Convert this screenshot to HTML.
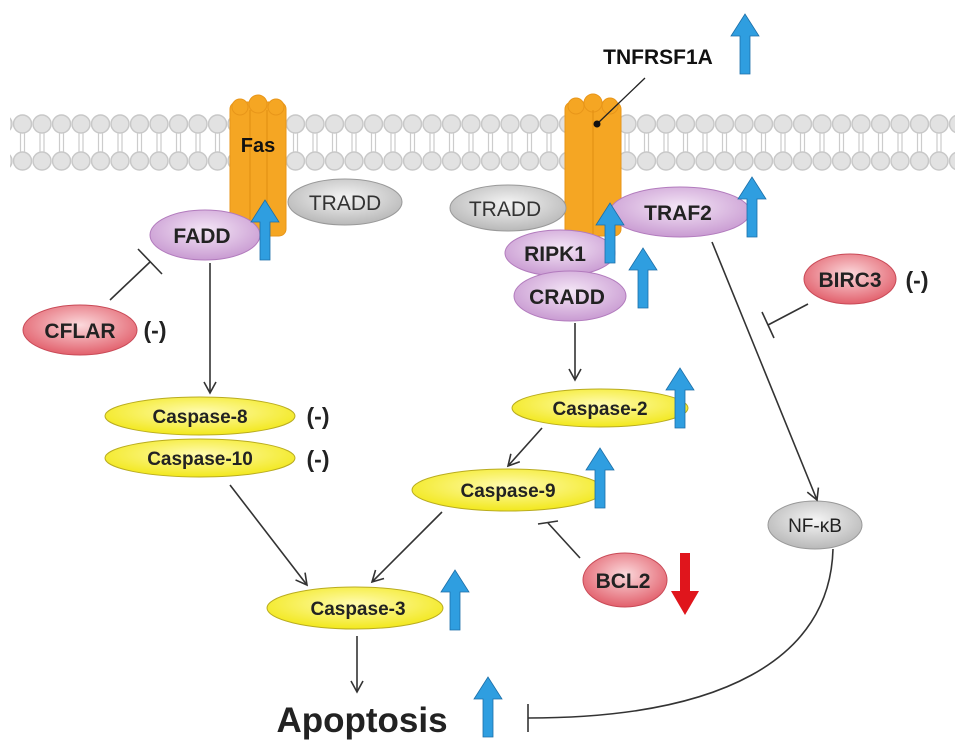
<!DOCTYPE html>
<html><head><meta charset="utf-8"><style>html,body{margin:0;padding:0;background:#fff}svg{display:block}text{font-family:"Liberation Sans",sans-serif}.b{font-weight:bold}</style></head><body>
<svg width="969" height="752" viewBox="0 0 969 752" xmlns="http://www.w3.org/2000/svg">
<defs>
<pattern id="mem" x="13" y="0" width="19.5" height="752" patternUnits="userSpaceOnUse">
<circle cx="9.5" cy="124" r="9" fill="#e2e2e2" stroke="#c8c8c8" stroke-width="1.5"/>
<circle cx="9.5" cy="161" r="9" fill="#e2e2e2" stroke="#c8c8c8" stroke-width="1.5"/>
<line x1="7.5" y1="133" x2="7.5" y2="152" stroke="#ccc" stroke-width="1.2"/>
<line x1="11.5" y1="133" x2="11.5" y2="152" stroke="#ccc" stroke-width="1.2"/>
</pattern>
<radialGradient id="gp" cx="50%" cy="40%" r="60%"><stop offset="0" stop-color="#f4e6f6"/><stop offset="1" stop-color="#c99bd2"/></radialGradient>
<radialGradient id="gg" cx="50%" cy="40%" r="60%"><stop offset="0" stop-color="#f5f5f5"/><stop offset="1" stop-color="#b8b8b8"/></radialGradient>
<radialGradient id="gr" cx="50%" cy="40%" r="60%"><stop offset="0" stop-color="#fbd9dc"/><stop offset="1" stop-color="#e2606c"/></radialGradient>
<radialGradient id="gy" cx="50%" cy="40%" r="60%"><stop offset="0" stop-color="#fffbb0"/><stop offset="1" stop-color="#f2e81c"/></radialGradient>
<marker id="ah" markerWidth="14" markerHeight="14" refX="12" refY="7" orient="auto" markerUnits="userSpaceOnUse"><path d="M1,1 L12,7 L1,13" fill="none" stroke="#333" stroke-width="1.6"/></marker>
<g id="up"><path d="M-5,60 L-5,22 L-14,22 L0,0 L14,22 L5,22 L5,60 Z" fill="#2f9ee0" stroke="#1c6fa8" stroke-width="0.8"/></g>
</defs>
<rect x="10" y="110" width="945" height="65" fill="url(#mem)"/>
<g fill="#f5a623" stroke="#e8961a">
<rect x="230" y="102" width="56" height="134" rx="7"/><circle cx="240" cy="107" r="8"/><circle cx="258" cy="104" r="9"/><circle cx="276" cy="107" r="8"/>
<rect x="565" y="102" width="56" height="134" rx="7"/><circle cx="576" cy="106" r="8"/><circle cx="593" cy="103" r="9"/><circle cx="610" cy="106" r="8"/>
</g>
<g stroke="#e08d10" stroke-width="1"><line x1="250" y1="110" x2="250" y2="234"/><line x1="267" y1="110" x2="267" y2="234"/><line x1="593" y1="110" x2="593" y2="234"/></g>
<text class="b" x="258" y="152" font-size="20" text-anchor="middle" fill="#111">Fas</text>
<text class="b" x="658" y="64" font-size="21" text-anchor="middle" fill="#111">TNFRSF1A</text>
<use href="#up" x="745" y="14"/>
<line x1="645" y1="78" x2="598" y2="123" stroke="#222" stroke-width="1.3"/><circle cx="597" cy="124" r="3.5" fill="#111"/>
<g font-size="21" text-anchor="middle">
<ellipse cx="345" cy="202" rx="57" ry="23" fill="url(#gg)" stroke="#999"/><text x="345" y="210" fill="#333">TRADD</text>
<ellipse cx="205" cy="235" rx="55" ry="25" fill="url(#gp)" stroke="#b27bbd"/><text class="b" x="202" y="243" fill="#222">FADD</text>
<ellipse cx="508" cy="208" rx="58" ry="23" fill="url(#gg)" stroke="#999"/><text x="505" y="216" fill="#333">TRADD</text>
<ellipse cx="680" cy="212" rx="70" ry="25" fill="url(#gp)" stroke="#b27bbd"/><text class="b" x="678" y="220" fill="#222">TRAF2</text>
<ellipse cx="560" cy="253" rx="55" ry="23" fill="url(#gp)" stroke="#b27bbd"/><text class="b" x="555" y="261" fill="#222">RIPK1</text>
<ellipse cx="570" cy="296" rx="56" ry="25" fill="url(#gp)" stroke="#b27bbd"/><text class="b" x="567" y="304" fill="#222">CRADD</text>
<ellipse cx="850" cy="279" rx="46" ry="25" fill="url(#gr)" stroke="#c94a57"/><text class="b" x="850" y="287" fill="#222">BIRC3</text>
<text class="b" x="917" y="288" fill="#222" font-size="23">(-)</text>
<ellipse cx="80" cy="330" rx="57" ry="25" fill="url(#gr)" stroke="#c94a57"/><text class="b" x="80" y="338" fill="#222">CFLAR</text>
<text class="b" x="155" y="338" fill="#222" font-size="23">(-)</text>
</g>
<use href="#up" x="265" y="200"/><use href="#up" x="752" y="177"/><use href="#up" x="610" y="203"/><use href="#up" x="643" y="248"/>
<g font-size="19" text-anchor="middle" fill="#222" class="b">
<ellipse cx="200" cy="416" rx="95" ry="19" fill="url(#gy)" stroke="#b9ac20"/><text class="b" x="200" y="423">Caspase-8</text>
<ellipse cx="200" cy="458" rx="95" ry="19" fill="url(#gy)" stroke="#b9ac20"/><text class="b" x="200" y="465">Caspase-10</text>
<text class="b" x="318" y="424" font-size="23">(-)</text><text class="b" x="318" y="467" font-size="23">(-)</text>
<ellipse cx="600" cy="408" rx="88" ry="19" fill="url(#gy)" stroke="#b9ac20"/><text class="b" x="600" y="415">Caspase-2</text>
<ellipse cx="508" cy="490" rx="96" ry="21" fill="url(#gy)" stroke="#b9ac20"/><text class="b" x="508" y="497">Caspase-9</text>
<ellipse cx="355" cy="608" rx="88" ry="21" fill="url(#gy)" stroke="#b9ac20"/><text class="b" x="358" y="615">Caspase-3</text>
<ellipse cx="625" cy="580" rx="42" ry="27" fill="url(#gr)" stroke="#c94a57"/><text class="b" x="623" y="588" font-size="21">BCL2</text>
<ellipse cx="815" cy="525" rx="47" ry="24" fill="url(#gg)" stroke="#999"/><text x="815" y="532" font-size="19" style="font-weight:normal">NF-κB</text>
</g>
<use href="#up" x="680" y="368"/><use href="#up" x="600" y="448"/><use href="#up" x="455" y="570"/><use href="#up" x="488" y="677"/>
<path d="M680,615 L680,577 L671,577 L685,553 L699,577 L690,577 L690,615 Z" transform="rotate(180 685 584)" fill="#e0151c"/>
<text class="b" x="362" y="732" font-size="35" text-anchor="middle" fill="#222">Apoptosis</text>
<g stroke="#333" stroke-width="1.6" fill="none">
<line x1="110" y1="300" x2="150" y2="262"/><line x1="138" y1="249" x2="162" y2="274"/>
<line x1="210" y1="263" x2="210" y2="393" marker-end="url(#ah)"/>
<line x1="575" y1="323" x2="575" y2="380" marker-end="url(#ah)"/>
<line x1="542" y1="428" x2="508" y2="466" marker-end="url(#ah)"/>
<line x1="712" y1="242" x2="817" y2="500" marker-end="url(#ah)"/>
<line x1="808" y1="304" x2="768" y2="325"/><line x1="762" y1="312" x2="774" y2="338"/>
<line x1="580" y1="558" x2="548" y2="523"/><line x1="538" y1="524" x2="558" y2="521"/>
<line x1="230" y1="485" x2="307" y2="585" marker-end="url(#ah)"/>
<line x1="442" y1="512" x2="372" y2="582" marker-end="url(#ah)"/>
<line x1="357" y1="636" x2="357" y2="692" marker-end="url(#ah)"/>
<path d="M833,549 C830,660 720,718 528,718"/><line x1="528" y1="704" x2="528" y2="732"/>
</g>
</svg>
</body></html>
